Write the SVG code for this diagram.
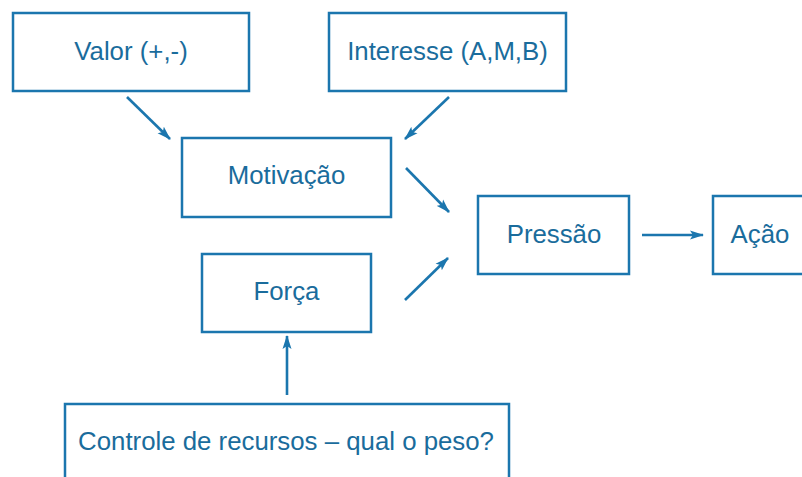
<svg xmlns="http://www.w3.org/2000/svg" width="802" height="477" viewBox="0 0 802 477">
<defs>
<style>
.box{fill:#fff;stroke:#1b76ae;stroke-width:2.5}
.lbl{font-family:"Liberation Sans",Arial,sans-serif;font-size:25.8px;fill:#1a6c9c;text-anchor:middle}
.edge{stroke:#1b76ae;stroke-width:2.6;fill:none;marker-end:url(#ah)}
</style>
<marker id="ah" viewBox="0 0 14 10" refX="13" refY="5" markerWidth="14" markerHeight="10" orient="auto" markerUnits="userSpaceOnUse">
<path d="M0,0.5 L14,5 L0,9.5 L3,5 Z" fill="#1b76ae"/>
</marker>
</defs>
<rect width="802" height="477" fill="#fff"/>
<g id="valor"><rect class="box" x="13" y="13" width="236" height="78"/><text class="lbl" x="131" y="60">Valor (+,-)</text></g>
<g id="interesse"><rect class="box" x="329" y="13" width="237" height="78"/><text class="lbl" x="447.5" y="60">Interesse (A,M,B)</text></g>
<g id="motivacao"><rect class="box" x="182" y="138" width="209" height="79"/><text class="lbl" x="286.5" y="184">Motivação</text></g>
<g id="pressao"><rect class="box" x="478" y="196" width="151" height="78"/><text class="lbl" x="554" y="243">Pressão</text></g>
<g id="acao"><rect class="box" x="713" y="196" width="100" height="78"/><text class="lbl" x="760" y="243">Ação</text></g>
<g id="forca"><rect class="box" x="202" y="254" width="169" height="78"/><text class="lbl" x="286.5" y="300">Força</text></g>
<g id="controle"><rect class="box" x="65" y="404" width="444" height="90"/><text class="lbl" x="286" y="450">Controle de recursos – qual o peso?</text></g>
<g id="connectors">
<line class="edge" x1="127" y1="97" x2="170" y2="139"/>
<line class="edge" x1="449" y1="97" x2="405" y2="139"/>
<line class="edge" x1="406" y1="168" x2="449" y2="212"/>
<line class="edge" x1="405" y1="300" x2="448" y2="258"/>
<line class="edge" x1="642" y1="235" x2="703" y2="235"/>
<line class="edge" x1="287" y1="395" x2="287" y2="336"/>
</g>
</svg>
